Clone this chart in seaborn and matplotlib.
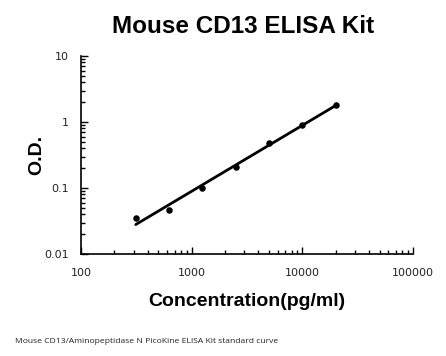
import numpy as np
import pandas as pd
import seaborn as sns
import matplotlib.pyplot as plt
from matplotlib.ticker import LogLocator, FixedLocator, FixedFormatter

# standard curve data
conc = [312.5, 625, 1250, 2500, 5000, 10000, 20000]
od = [0.035, 0.046, 0.101, 0.21, 0.485, 0.91, 1.81]

x_ticks = [100, 1000, 10000, 100000]
x_labels = ['100', '1000', '10000', '100000']
y_ticks = [0.01, 0.1, 1, 10]
y_labels = ['0.01', '0.1', '1', '10']

df = pd.DataFrame({'conc': conc, 'od': od})

# power trendline (linear fit in log-log)
slope, icpt = np.polyfit(np.log10(df['conc']), np.log10(df['od']), 1)
fit = pd.DataFrame({'conc': [min(conc), max(conc)]})
fit['od'] = 10 ** (icpt + slope * np.log10(fit['conc']))

sns.set_style('white', {'text.color': 'black', 'axes.labelcolor': 'black',
                        'xtick.color': 'black', 'ytick.color': 'black',
                        'xtick.direction': 'in', 'ytick.direction': 'in'})
plt.rcParams['font.family'] = ['DejaVu Sans']

fig = plt.figure(figsize=(4.46, 3.56), dpi=100)
ax = fig.add_axes([0.1816, 0.2865, 0.7444, 0.5562])

sns.lineplot(data=fit, x='conc', y='od', color='black', linewidth=2, ax=ax)
sns.scatterplot(data=df, x='conc', y='od', color='black', s=22, edgecolor='black',
                linewidth=0, ax=ax, zorder=3)

ax.set_xscale('log')
ax.set_yscale('log')
ax.set_xlim(100, 100000)
ax.set_ylim(0.01, 10)
ax.xaxis.set_major_locator(FixedLocator(x_ticks))
ax.xaxis.set_major_formatter(FixedFormatter(x_labels))
ax.yaxis.set_major_locator(FixedLocator(y_ticks))
ax.yaxis.set_major_formatter(FixedFormatter(y_labels))
ax.xaxis.set_minor_locator(LogLocator(base=10, subs=np.arange(2, 10)))
ax.yaxis.set_minor_locator(LogLocator(base=10, subs=np.arange(2, 10)))
ax.xaxis.set_minor_formatter(plt.NullFormatter())
ax.yaxis.set_minor_formatter(plt.NullFormatter())

ax.tick_params(which='major', direction='in', length=5, width=1, color='black',
               labelsize=8, labelcolor='#222222', left=True, bottom=True)
ax.tick_params(which='minor', direction='in', length=3, width=1, color='black',
               left=True, bottom=True)
ax.tick_params(axis='x', which='major', pad=10)
ax.tick_params(axis='y', which='major', pad=9)

sns.despine(ax=ax)
for s in ['left', 'bottom']:
    ax.spines[s].set_color('black')
    ax.spines[s].set_linewidth(1.2)

ax.set_xlabel('Concentration(pg/ml)', fontsize=14, fontweight='bold',
              family='Liberation Sans', labelpad=11, color='black')
ax.set_ylabel('O.D.', fontsize=14, fontweight='bold', family='Liberation Sans',
              labelpad=-1, color='black')

fig.text(0.545, 0.925, 'Mouse CD13 ELISA Kit', ha='center', va='center',
         fontsize=17.5, fontweight='bold', family='Liberation Sans', color='black')
fig.text(0.034, 0.042, 'Mouse CD13/Aminopeptidase N PicoKine ELISA Kit standard curve',
         ha='left', va='center', fontsize=6.1, family='Open Sans', color='#222222')

fig.savefig('out.png', dpi=100)
